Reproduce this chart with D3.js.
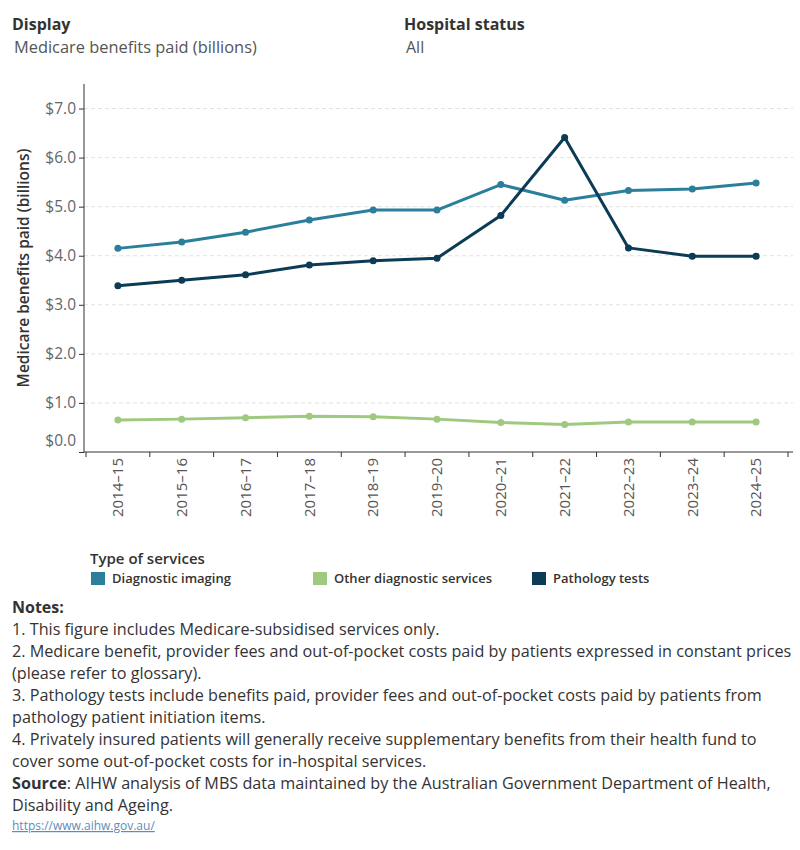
<!DOCTYPE html>
<html>
<head>
<meta charset="utf-8">
<script src="https://cdn.jsdelivr.net/npm/d3@7"></script>
<style>
  body { margin: 0; background: #fff; }
  svg text { font-family: "Open Sans", "Noto Sans", sans-serif; }
</style>
</head>
<body>
<div id="chart"></div>
<script>
// data
var years = ["2014–15", "2015–16", "2016–17", "2017–18", "2018–19", "2019–20",
             "2020–21", "2021–22", "2022–23", "2023–24", "2024–25"];
var imaging   = [4.15, 4.28, 4.48, 4.73, 4.93, 4.93, 5.45, 5.13, 5.33, 5.36, 5.48];
var other     = [0.65, 0.67, 0.70, 0.73, 0.72, 0.67, 0.60, 0.56, 0.61, 0.61, 0.61];
var pathology = [3.39, 3.50, 3.61, 3.81, 3.90, 3.95, 4.82, 6.41, 4.16, 3.99, 3.99];
var yTicks = [0, 1, 2, 3, 4, 5, 6, 7];

var seriesNames = ["Diagnostic imaging", "Other diagnostic services", "Pathology tests"];
var seriesColors = ["#2b7f9b", "#9fc97f", "#0b3b55"];
var seriesValues = [imaging, other, pathology];

var notes = [
    "1. This figure includes Medicare-subsidised services only.",
    "2. Medicare benefit, provider fees and out-of-pocket costs paid by patients expressed in constant prices",
    "(please refer to glossary).",
    "3. Pathology tests include benefits paid, provider fees and out-of-pocket costs paid by patients from",
    "pathology patient initiation items.",
    "4. Privately insured patients will generally receive supplementary benefits from their health fund to",
    "cover some out-of-pocket costs for in-hospital services."
];

var width = 800, height = 850;
var svg = d3.select("#chart").append("svg")
    .attr("width", width)
    .attr("height", height);

// filter captions
svg.append("text").attr("x", 12).attr("y", 30)
    .style("font-size", "16px").style("font-weight", 700).attr("fill", "#333")
    .text("Display");
svg.append("text").attr("x", 14).attr("y", 53)
    .style("font-size", "16.4px").attr("fill", "#555")
    .text("Medicare benefits paid (billions)");
svg.append("text").attr("x", 404).attr("y", 30)
    .style("font-size", "16px").style("font-weight", 700).attr("fill", "#333")
    .text("Hospital status");
svg.append("text").attr("x", 406).attr("y", 53)
    .style("font-size", "16px").attr("fill", "#555")
    .text("All");

// scales
var plotLeft = 84, plotRight = 793, plotTop = 84, plotBottom = 452;
var x = d3.scaleBand().domain(years).range([86, 788]).padding(0);
var y = d3.scaleLinear().domain([0, 7.5]).range([plotBottom, plotTop]);

// grid
svg.append("g").selectAll("line")
    .data(yTicks.filter(function (d) { return d > 0; }))
    .join("line")
    .attr("x1", plotLeft).attr("x2", plotRight)
    .attr("y1", function (d) { return y(d); })
    .attr("y2", function (d) { return y(d); })
    .attr("stroke", "#e2e2e2")
    .attr("stroke-dasharray", "4,3");

// y axis
var yAxis = svg.append("g")
    .attr("transform", "translate(" + plotLeft + ",0)")
    .call(d3.axisLeft(y).tickValues(yTicks).tickSize(5).tickPadding(3)
        .tickFormat(function (d) { return "$" + d3.format(".1f")(d); }));
yAxis.select(".domain").attr("stroke", "#333").attr("d", "M0," + plotTop + "V" + plotBottom);
yAxis.selectAll(".tick line").attr("stroke", "#333");
yAxis.selectAll(".tick text")
    .style("font-size", "15.5px").attr("fill", "#666")
    .attr("dy", function (d) { return d === 0 ? "-0.45em" : "0.32em"; });

// x axis
var xAxis = svg.append("g")
    .attr("transform", "translate(0," + plotBottom + ")")
    .call(d3.axisBottom(x).tickSize(0).tickPadding(0));
xAxis.select(".domain").attr("stroke", "#333").attr("d", "M" + plotLeft + ",0H" + plotRight);
xAxis.selectAll(".tick text")
    .style("font-size", "15px").attr("fill", "#555")
    .attr("text-anchor", "end")
    .attr("transform", "translate(0,6) rotate(-90)")
    .attr("x", 0).attr("y", 0).attr("dy", "0.35em");
// boundary ticks between categories
svg.append("g").selectAll("line")
    .data(years.concat(["end"]))
    .join("line")
    .attr("x1", function (d, i) { return i < years.length ? x(d) : x.range()[1]; })
    .attr("x2", function (d, i) { return i < years.length ? x(d) : x.range()[1]; })
    .attr("y1", plotBottom).attr("y2", plotBottom + 5)
    .attr("stroke", "#333");

// y axis title
svg.append("text")
    .attr("transform", "translate(29,268) rotate(-90)")
    .attr("text-anchor", "middle")
    .style("font-size", "15.5px").style("font-weight", 600).attr("fill", "#333")
    .text("Medicare benefits paid (billions)");

// lines and points
var line = d3.line()
    .x(function (d, i) { return x(years[i]) + x.bandwidth() / 2; })
    .y(function (d) { return y(d); });

seriesValues.forEach(function (vals, k) {
    svg.append("path")
        .datum(vals)
        .attr("d", line)
        .attr("fill", "none")
        .attr("stroke", seriesColors[k])
        .attr("stroke-width", 3)
        .attr("stroke-linejoin", "round");
    svg.append("g").selectAll("circle")
        .data(vals)
        .join("circle")
        .attr("cx", function (d, i) { return x(years[i]) + x.bandwidth() / 2; })
        .attr("cy", function (d) { return y(d); })
        .attr("r", 3.5)
        .attr("fill", seriesColors[k]);
});

// legend
svg.append("text").attr("x", 90).attr("y", 564)
    .style("font-size", "15px").style("font-weight", 600).attr("fill", "#333")
    .text("Type of services");
var legendX = [91, 313, 532];
var legend = svg.append("g").selectAll("g")
    .data(seriesNames)
    .join("g")
    .attr("transform", function (d, i) { return "translate(" + legendX[i] + ",572)"; });
legend.append("rect").attr("width", 14).attr("height", 13)
    .attr("fill", function (d, i) { return seriesColors[i]; });
legend.append("text").attr("x", 21).attr("y", 11)
    .style("font-size", "13px").style("font-weight", 600).attr("fill", "#333")
    .text(function (d) { return d; });

// notes
svg.append("text").attr("x", 12).attr("y", 613)
    .style("font-size", "16px").style("font-weight", 700).attr("fill", "#333")
    .text("Notes:");
svg.append("g").selectAll("text")
    .data(notes)
    .join("text")
    .attr("x", 12)
    .attr("y", function (d, i) { return 635 + i * 22; })
    .style("font-size", "16.2px").attr("fill", "#333")
    .text(function (d) { return d; });
var src = svg.append("text").attr("x", 12).attr("y", 789)
    .style("font-size", "16.2px").attr("fill", "#333");
src.append("tspan").style("font-weight", 700).text("Source");
src.append("tspan").text(": AIHW analysis of MBS data maintained by the Australian Government Department of Health,");
svg.append("text").attr("x", 12).attr("y", 811)
    .style("font-size", "16.2px").attr("fill", "#333")
    .text("Disability and Ageing.");
svg.append("text").attr("x", 12).attr("y", 830)
    .style("font-size", "12px").attr("fill", "#5a8ebd")
    .attr("text-decoration", "underline")
    .text("https://www.aihw.gov.au/");
</script>
</body>
</html>
